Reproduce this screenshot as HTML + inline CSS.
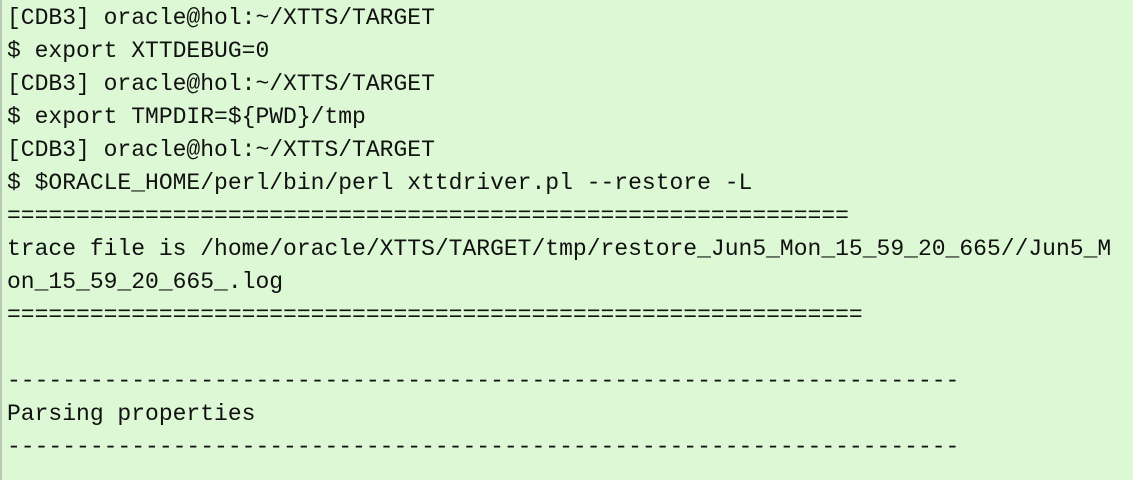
<!DOCTYPE html>
<html><head><meta charset="utf-8"><style>
html,body{margin:0;padding:0;}
body{width:1133px;height:480px;background:#dcf8d4;overflow:hidden;position:relative;}
.b{position:absolute;left:0;top:0;width:2px;height:480px;background:#b8c8b4;}
pre{margin:0;padding:2px 0 0 7px;font-family:"Liberation Mono",monospace;font-size:23px;line-height:33px;color:#111;}
</style></head><body><div class="b"></div><pre>[CDB3] oracle@hol:~/XTTS/TARGET
$ export XTTDEBUG=0
[CDB3] oracle@hol:~/XTTS/TARGET
$ export TMPDIR=${PWD}/tmp
[CDB3] oracle@hol:~/XTTS/TARGET
$ $ORACLE_HOME/perl/bin/perl xttdriver.pl --restore -L
=============================================================
trace file is /home/oracle/XTTS/TARGET/tmp/restore_Jun5_Mon_15_59_20_665//Jun5_M
on_15_59_20_665_.log
==============================================================

---------------------------------------------------------------------
Parsing properties
---------------------------------------------------------------------
</pre></body></html>
